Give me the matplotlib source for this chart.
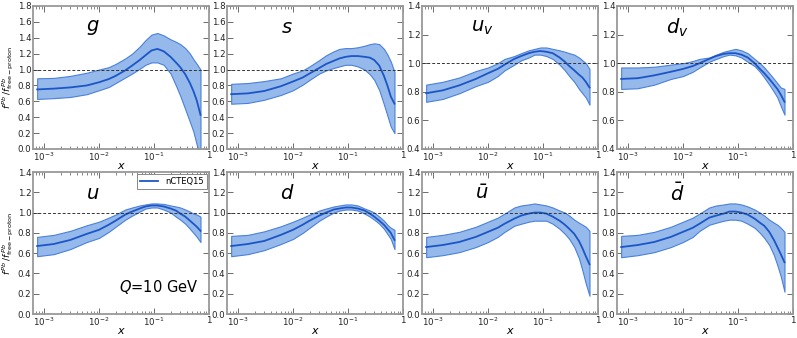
import math
import matplotlib
matplotlib.use("Agg")
import matplotlib.pyplot as plt
from matplotlib.ticker import FixedLocator, FuncFormatter, LogLocator, NullFormatter

plt.rcParams['font.family'] = ['DejaVu Sans']
plt.rcParams['mathtext.fontset'] = 'dejavusans'

x = [7.5e-4, 1.5e-3, 3e-3, 6e-3, 1e-2, 1.5e-2, 2e-2, 3e-2, 4e-2, 5.5e-2, 0.07,
     0.09, 0.115, 0.15, 0.2, 0.25, 0.3, 0.37, 0.45, 0.52, 0.6, 0.7]

g_c = [0.75, 0.76, 0.775, 0.80, 0.84, 0.88, 0.92, 0.99, 1.05, 1.12, 1.18, 1.24, 1.26, 1.23, 1.16, 1.09, 1.03, 0.94, 0.83, 0.73, 0.61, 0.43]
g_u = [0.89, 0.895, 0.92, 0.96, 1.00, 1.03, 1.07, 1.14, 1.20, 1.29, 1.37, 1.44, 1.46, 1.43, 1.38, 1.35, 1.32, 1.27, 1.20, 1.13, 1.07, 1.00]
g_l = [0.63, 0.64, 0.655, 0.69, 0.74, 0.78, 0.83, 0.90, 0.95, 1.01, 1.06, 1.09, 1.09, 1.06, 0.95, 0.80, 0.67, 0.50, 0.34, 0.22, 0.05, -0.10]

s_c = [0.69, 0.70, 0.73, 0.79, 0.85, 0.90, 0.95, 1.02, 1.07, 1.11, 1.14, 1.16, 1.17, 1.17, 1.16, 1.15, 1.12, 1.05, 0.92, 0.80, 0.66, 0.57]
s_u = [0.82, 0.83, 0.855, 0.89, 0.95, 0.99, 1.04, 1.12, 1.18, 1.23, 1.26, 1.27, 1.27, 1.28, 1.30, 1.32, 1.33, 1.32, 1.26, 1.19, 1.10, 0.97]
s_l = [0.57, 0.58, 0.62, 0.68, 0.74, 0.81, 0.87, 0.95, 0.99, 1.02, 1.04, 1.06, 1.06, 1.04, 1.00, 0.94, 0.87, 0.74, 0.56, 0.42, 0.28, 0.20]

uv_c = [0.79, 0.81, 0.845, 0.89, 0.93, 0.96, 0.99, 1.03, 1.05, 1.07, 1.08, 1.085, 1.08, 1.07, 1.04, 1.01, 0.98, 0.95, 0.92, 0.90, 0.87, 0.83]
uv_u = [0.85, 0.87, 0.90, 0.945, 0.97, 1.00, 1.03, 1.05, 1.07, 1.09, 1.10, 1.11, 1.11, 1.10, 1.09, 1.08, 1.07, 1.06, 1.04, 1.02, 1.00, 0.96]
uv_l = [0.73, 0.75, 0.79, 0.84, 0.87, 0.91, 0.95, 0.99, 1.02, 1.04, 1.06, 1.06, 1.05, 1.03, 0.99, 0.95, 0.91, 0.87, 0.82, 0.79, 0.76, 0.71]

dv_c = [0.89, 0.895, 0.915, 0.94, 0.96, 0.98, 1.00, 1.03, 1.05, 1.065, 1.07, 1.07, 1.06, 1.04, 1.00, 0.96, 0.93, 0.89, 0.85, 0.82, 0.78, 0.73]
dv_u = [0.97, 0.97, 0.975, 0.99, 1.00, 1.015, 1.03, 1.04, 1.06, 1.08, 1.09, 1.10, 1.09, 1.07, 1.03, 1.00, 0.97, 0.93, 0.89, 0.86, 0.83, 0.82]
dv_l = [0.82, 0.825, 0.85, 0.89, 0.91, 0.94, 0.97, 1.01, 1.03, 1.05, 1.06, 1.055, 1.04, 1.01, 0.98, 0.94, 0.90, 0.85, 0.80, 0.76, 0.70, 0.64]

u_c = [0.67, 0.69, 0.73, 0.79, 0.83, 0.88, 0.92, 0.98, 1.01, 1.04, 1.06, 1.07, 1.07, 1.06, 1.04, 1.02, 0.99, 0.96, 0.92, 0.89, 0.86, 0.82]
u_u = [0.76, 0.78, 0.82, 0.875, 0.91, 0.95, 0.98, 1.03, 1.05, 1.07, 1.08, 1.09, 1.09, 1.085, 1.07, 1.06, 1.05, 1.03, 1.01, 0.99, 0.98, 0.96]
u_l = [0.57, 0.59, 0.64, 0.71, 0.75, 0.81, 0.86, 0.93, 0.97, 1.01, 1.04, 1.05, 1.05, 1.03, 1.00, 0.96, 0.93, 0.89, 0.84, 0.80, 0.76, 0.71]

d_c = [0.67, 0.69, 0.72, 0.78, 0.83, 0.88, 0.92, 0.97, 1.00, 1.03, 1.04, 1.05, 1.05, 1.04, 1.02, 0.99, 0.96, 0.92, 0.88, 0.84, 0.80, 0.73]
d_u = [0.77, 0.78, 0.815, 0.865, 0.91, 0.95, 0.98, 1.02, 1.04, 1.06, 1.07, 1.08, 1.08, 1.07, 1.04, 1.02, 1.00, 0.96, 0.92, 0.88, 0.85, 0.83]
d_l = [0.57, 0.59, 0.63, 0.69, 0.74, 0.80, 0.85, 0.92, 0.96, 1.00, 1.02, 1.03, 1.03, 1.02, 0.99, 0.96, 0.93, 0.89, 0.84, 0.79, 0.74, 0.64]

ub_c = [0.66, 0.68, 0.71, 0.76, 0.81, 0.85, 0.89, 0.94, 0.97, 0.99, 1.00, 1.00, 0.99, 0.96, 0.92, 0.88, 0.84, 0.79, 0.72, 0.65, 0.57, 0.49]
ub_u = [0.76, 0.78, 0.81, 0.86, 0.91, 0.95, 0.99, 1.05, 1.07, 1.08, 1.09, 1.08, 1.07, 1.05, 1.02, 1.00, 0.97, 0.93, 0.90, 0.88, 0.86, 0.82]
ub_l = [0.56, 0.58, 0.61, 0.66, 0.71, 0.76, 0.81, 0.87, 0.89, 0.91, 0.92, 0.92, 0.92, 0.89, 0.84, 0.79, 0.74, 0.66, 0.55, 0.43, 0.30, 0.18]

db_c = [0.66, 0.68, 0.71, 0.76, 0.81, 0.85, 0.89, 0.95, 0.97, 0.99, 1.01, 1.01, 1.00, 0.98, 0.94, 0.90, 0.87, 0.81, 0.73, 0.66, 0.59, 0.51]
db_u = [0.77, 0.78, 0.81, 0.86, 0.91, 0.95, 0.99, 1.05, 1.07, 1.08, 1.09, 1.09, 1.08, 1.06, 1.03, 1.00, 0.97, 0.93, 0.90, 0.88, 0.85, 0.81]
db_l = [0.56, 0.58, 0.61, 0.66, 0.71, 0.76, 0.82, 0.88, 0.90, 0.92, 0.93, 0.93, 0.92, 0.89, 0.85, 0.80, 0.75, 0.68, 0.58, 0.48, 0.37, 0.22]

labels = [r'$g$', r'$s$', r'$u_v$', r'$d_v$', r'$u$', r'$d$', r'$\bar{u}$', r'$\bar{d}$']
series = [(g_c, g_u, g_l), (s_c, s_u, s_l), (uv_c, uv_u, uv_l), (dv_c, dv_u, dv_l),
          (u_c, u_u, u_l), (d_c, d_u, d_l), (ub_c, ub_u, ub_l), (db_c, db_u, db_l)]
ylims = [(0, 1.8), (0, 1.8), (0.4, 1.4), (0.4, 1.4), (0, 1.4), (0, 1.4), (0, 1.4), (0, 1.4)]
yticks = [[0.0, 0.2, 0.4, 0.6, 0.8, 1.0, 1.2, 1.4, 1.6, 1.8]] * 2 + [[0.4, 0.6, 0.8, 1.0, 1.2, 1.4]] * 2 + \
         [[0.0, 0.2, 0.4, 0.6, 0.8, 1.0, 1.2, 1.4]] * 4

fill_col = '#95b9ea'
edge_col = '#4a80dc'
line_col = '#1c56c6'
spine_col = '#999999'

W, H = 797, 338
fig = plt.figure(figsize=(W / 100, H / 100), dpi=100)
lefts = [33, 227, 422, 617]
pw = 176
rows = [(6, 149), (172, 314)]


def fmt(v, pos):
    if abs(v - 1) < 1e-9:
        return '1'
    return r'$10^{%d}$' % round(math.log10(v))


for i in range(8):
    r, c = divmod(i, 4)
    top, bot = rows[r]
    ax = fig.add_axes([lefts[c] / W, 1 - bot / H, pw / W, (bot - top) / H])
    cen, up, lo = series[i]
    ax.fill_between(x, lo, up, facecolor=fill_col, edgecolor=edge_col, linewidth=0.8, zorder=2)
    ax.plot(x, cen, color=line_col, linewidth=1.3, zorder=3, label='nCTEQ15')
    ax.axhline(1.0, color='#333333', linestyle='--', linewidth=0.7, dashes=(3, 2), zorder=4)
    ax.set_xscale('log')
    ax.set_xlim(6.3e-4, 1)
    ax.set_ylim(*ylims[i])
    ax.set_yticks(yticks[i])
    ax.set_yticklabels(['%.1f' % v for v in yticks[i]])
    ax.xaxis.set_major_locator(FixedLocator([1e-3, 1e-2, 1e-1, 1]))
    ax.xaxis.set_major_formatter(FuncFormatter(fmt))
    ax.xaxis.set_minor_locator(LogLocator(base=10, subs=range(2, 10)))
    ax.xaxis.set_minor_formatter(NullFormatter())
    ax.yaxis.set_minor_locator(FixedLocator([]))
    ax.tick_params(which='both', direction='in', top=True, right=True, labelsize=6.2,
                   colors='#222222', pad=1.2)
    ax.tick_params(which='major', length=4, width=0.6, color='#555555')
    ax.tick_params(which='minor', length=2, width=0.5, color='#555555')
    for sp in ax.spines.values():
        sp.set_color(spine_col)
        sp.set_linewidth(1.3)
    ax.set_xlabel(r'$x$', fontsize=8, labelpad=-1.5)
    ax.text(0.34, 0.85, labels[i], transform=ax.transAxes, fontsize=14,
            ha='center', va='center')
    if c == 0:
        fig.text(0.5 / W, 1 - ((top + bot) / 2) / H, r'$f^{\,Pb}\,/f^{\,Pb}_{\rm free-proton}$',
                 fontsize=6.5, rotation=90, ha='left', va='center')
    if i == 4:
        leg = ax.legend(loc='upper right', fontsize=6, handlelength=2.2, borderpad=0.35,
                        fancybox=False, framealpha=1, borderaxespad=0.25, handletextpad=0.9)
        leg.get_frame().set_edgecolor('#888888')
        leg.get_frame().set_linewidth(0.7)
        ax.text(0.94, 0.19, r'$Q$=10 GeV', transform=ax.transAxes, fontsize=10.5,
                ha='right', va='center')

fig.savefig('out.png', dpi=100)
